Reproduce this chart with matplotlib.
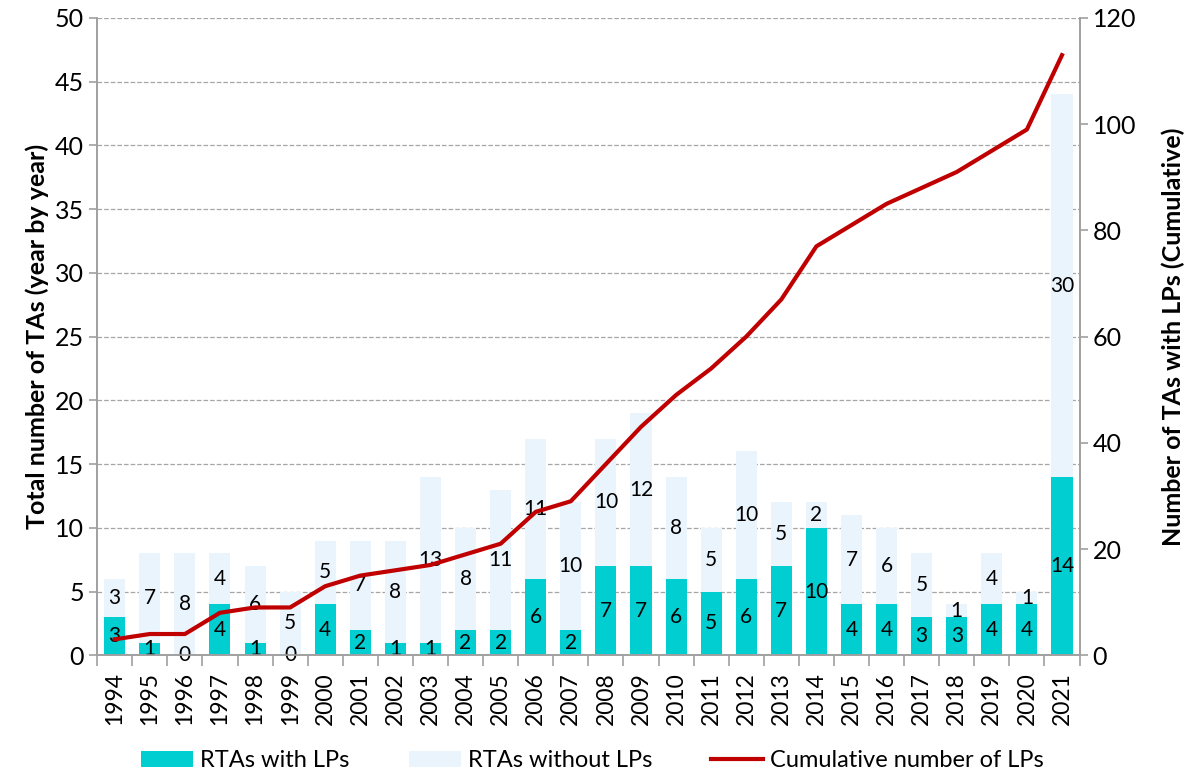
import matplotlib
matplotlib.use('Agg')
import matplotlib.pyplot as plt
import numpy as np

plt.rcParams['font.family'] = ['Lato', 'DejaVu Sans']

# 数据
years = [str(y) for y in range(1994, 2022)]
with_lps = [3, 1, 0, 4, 1, 0, 4, 2, 1, 1, 2, 2, 6, 2, 7, 7, 6, 5, 6, 7, 10, 4, 4, 3, 3, 4, 4, 14]
without_lps = [3, 7, 8, 4, 6, 5, 5, 7, 8, 13, 8, 11, 11, 10, 10, 12, 8, 5, 10, 5, 2, 7, 6, 5, 1, 4, 1, 30]
cumulative = [3, 4, 4, 8, 9, 9, 13, 15, 16, 17, 19, 21, 27, 29, 36, 43, 49, 54, 60, 67, 77, 81, 85, 88, 91, 95, 99, 113]

teal = '#00CED1'
light = '#EAF4FD'
red = '#C00000'
axis_gray = '#A0A0A0'

fig = plt.figure(figsize=(11.85, 7.81), dpi=100)
ax = fig.add_axes([0.082, 0.161, 0.829, 0.816])
ax2 = ax.twinx()

x = np.arange(len(years))
ax.bar(x, with_lps, width=0.6, color=teal, zorder=2, label='RTAs with LPs')
ax.bar(x, without_lps, width=0.6, bottom=with_lps, color=light, zorder=2,
       label='RTAs without LPs')

# 数据标签
for i in range(len(years)):
    ax.text(x[i], with_lps[i] / 2, str(with_lps[i]), ha='center', va='center',
            fontsize=15, zorder=4)
    ax.text(x[i], with_lps[i] + without_lps[i] / 2, str(without_lps[i]),
            ha='center', va='center', fontsize=15, zorder=4)

ax2.plot(x, cumulative, color=red, linewidth=3, zorder=3,
         label='Cumulative number of LPs')

ax.set_ylim(0, 50)
ax.set_yticks(range(0, 51, 5))
ax2.set_ylim(0, 120)
ax2.set_yticks(range(0, 121, 20))
ax.set_xlim(-0.5, len(years) - 0.5)

ax.yaxis.grid(True, linestyle='--', color='#A6A6A6', linewidth=0.9, zorder=0)
ax.set_axisbelow(True)

ax.set_xticks(x)
ax.set_xticklabels(years, rotation=90, fontsize=16.5)
ax.tick_params(axis='x', which='major', length=0, pad=12)
ax.set_xticks(np.arange(-0.5, len(years), 1), minor=True)
ax.tick_params(axis='x', which='minor', length=8, color=axis_gray, width=1.2)

ax.tick_params(axis='y', labelsize=18, length=6, color=axis_gray, width=1.2)
ax2.tick_params(axis='y', labelsize=18, length=6, color=axis_gray, width=1.2)

for a in (ax, ax2):
    a.spines['top'].set_visible(False)
    for s in ('left', 'right', 'bottom'):
        a.spines[s].set_color(axis_gray)
        a.spines[s].set_linewidth(1.2)

ax.set_ylabel('Total number of TAs (year by year)', fontsize=18,
              fontweight='bold', labelpad=4)
ax2.set_ylabel('Number of TAs with LPs (Cumulative)', fontsize=18,
               fontweight='bold', labelpad=18)

ax2.set_zorder(ax.get_zorder() + 1)
ax2.patch.set_visible(False)

h1, l1 = ax.get_legend_handles_labels()
h2, l2 = ax2.get_legend_handles_labels()
fig.legend(h1 + h2, l1 + l2, loc='lower center', bbox_to_anchor=(0.5, -0.015),
           ncol=3, frameon=False, fontsize=17, columnspacing=2.5,
           handlelength=2.2, handletextpad=0.3)

plt.savefig('out.png', dpi=100)
